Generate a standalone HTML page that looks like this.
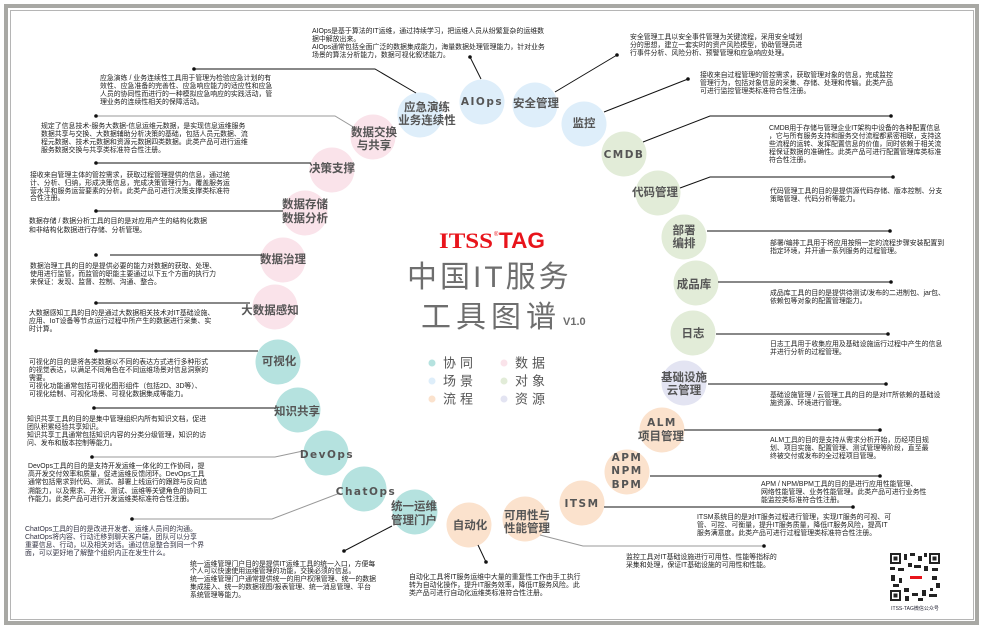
<!DOCTYPE html>
<html><head><meta charset="utf-8"><style>
html,body{margin:0;padding:0;background:#fff}
svg{display:block}
.d{font-family:"Liberation Sans","Noto Sans CJK SC",sans-serif;font-size:6.9px;fill:#222}
.c{font-family:"Liberation Sans","Noto Sans CJK SC",sans-serif;font-size:11.5px;font-weight:bold;fill:#555;text-anchor:middle;dominant-baseline:central}
.e{font-family:"DejaVu Sans","Liberation Sans",sans-serif;font-size:10.5px;font-weight:bold;fill:#555;text-anchor:middle;dominant-baseline:central;letter-spacing:1.5px}
.l{font-family:"Liberation Sans","Noto Sans CJK SC",sans-serif;font-size:13px;fill:#555;dominant-baseline:central;letter-spacing:4px}
line,polyline{stroke:#111;stroke-width:1;fill:none}
.g{stroke:#999}
</style></head><body>
<svg width="985" height="630" viewBox="0 0 985 630" xmlns="http://www.w3.org/2000/svg">
<rect x="0" y="0" width="985" height="630" fill="#fff"/>
<rect x="6" y="6" width="971" height="617" fill="none" stroke="#a8a8a4" stroke-width="4"/>
<rect x="10.5" y="10.5" width="963" height="609" fill="none" stroke="#b5b5b5" stroke-width="1"/>

<g>
<circle cx="482" cy="102" r="22.5" fill="#deeefa"/>
<circle cx="420" cy="115" r="22.5" fill="#deeefa"/>
<circle cx="535" cy="105" r="22.5" fill="#deeefa"/>
<circle cx="584" cy="124" r="22.5" fill="#deeefa"/>
<circle cx="373" cy="137" r="22.5" fill="#fae3ea"/>
<circle cx="332" cy="170" r="22.5" fill="#fae3ea"/>
<circle cx="305" cy="213" r="22.5" fill="#fae3ea"/>
<circle cx="283" cy="260" r="22.5" fill="#fae3ea"/>
<circle cx="275" cy="307" r="22.5" fill="#fae3ea"/>
<circle cx="278" cy="362" r="22.5" fill="#b5e2df"/>
<circle cx="298" cy="410" r="22.5" fill="#b5e2df"/>
<circle cx="326" cy="453" r="22.5" fill="#b5e2df"/>
<circle cx="364" cy="489" r="22.5" fill="#b5e2df"/>
<circle cx="415" cy="512" r="22.5" fill="#b5e2df"/>
<circle cx="469" cy="525" r="22.5" fill="#fbe2cd"/>
<circle cx="525" cy="519" r="22.5" fill="#fbe2cd"/>
<circle cx="582" cy="503" r="22.5" fill="#fbe2cd"/>
<circle cx="627" cy="472" r="22.5" fill="#fbe2cd"/>
<circle cx="662" cy="430" r="22.5" fill="#fbe2cd"/>
<circle cx="684" cy="383" r="22.5" fill="#e3e4f2"/>
<circle cx="693" cy="333" r="22.5" fill="#e2ecd8"/>
<circle cx="696" cy="283" r="22.5" fill="#e2ecd8"/>
<circle cx="684" cy="237" r="22.5" fill="#e2ecd8"/>
<circle cx="658" cy="193" r="22.5" fill="#e2ecd8"/>
<circle cx="624" cy="154" r="22.5" fill="#e2ecd8"/>
</g>

<g>
<polyline points="470,57 481,79"/><circle cx="470" cy="57" r="1.8" fill="#111"/>
<polyline points="194,69 375,69 416,93"/><circle cx="194" cy="69" r="1.8" fill="#111"/>
<polyline class="g" points="96,116 335,116 355,128"/><circle cx="96" cy="116" r="1.8" fill="#111"/>
<polyline points="96,163 311,163"/><circle cx="96" cy="163" r="1.8" fill="#111"/>
<polyline points="96,211 283,211"/><circle cx="96" cy="211" r="1.8" fill="#111"/>
<polyline points="110,255 262,255"/><circle cx="96" cy="255" r="1.8" fill="#111"/>
<polyline points="96,303 250,303"/><circle cx="96" cy="303" r="1.8" fill="#111"/>
<polyline points="96,351 258,351"/><circle cx="96" cy="351" r="1.8" fill="#111"/>
<polyline points="94,408 275,408"/><circle cx="94" cy="408" r="1.8" fill="#111"/>
<polyline class="g" points="92,457 275,457 303,451"/><circle cx="92" cy="457" r="1.8" fill="#111"/>
<polyline class="g" points="132,519 272,519 340,493"/><circle cx="132" cy="519" r="1.8" fill="#111"/>
<polyline points="344,551 392,526"/><circle cx="344" cy="551" r="1.8" fill="#111"/>
<polyline points="478,545 486,562"/><circle cx="486" cy="562" r="1.8" fill="#111"/>
<polyline class="g" points="540,535 583,546 764,546"/><circle cx="764" cy="546" r="1.8" fill="#111"/>
<polyline points="604,507 853,507"/><circle cx="853" cy="507" r="1.8" fill="#111"/>
<polyline points="650,476 880,476"/><circle cx="880" cy="476" r="1.8" fill="#111"/>
<polyline points="684,430 880,430"/><circle cx="880" cy="430" r="1.8" fill="#111"/>
<polyline points="708,384 886,384"/><circle cx="886" cy="384" r="1.8" fill="#111"/>
<polyline points="716,334 888,334"/><circle cx="888" cy="334" r="1.8" fill="#111"/>
<polyline points="718,282 891,282"/><circle cx="891" cy="282" r="1.8" fill="#111"/>
<polyline points="707,231 890,231"/><circle cx="890" cy="231" r="1.8" fill="#111"/>
<polyline points="680,188 710,177 893,177"/><circle cx="893" cy="177" r="1.8" fill="#111"/>
<polyline points="643,142 710,116 891,116"/><circle cx="891" cy="116" r="1.8" fill="#111"/>
<polyline points="604,112 688,79"/><circle cx="688" cy="79" r="1.8" fill="#111"/>
<polyline points="555,92 617,55"/><circle cx="617" cy="55" r="1.8" fill="#111"/>
</g>

<text class="e" x="482" y="102">AIOps</text>
<text class="c" x="427" y="108">应急演练</text><text class="c" x="427" y="121">业务连续性</text>
<text class="c" x="536" y="104">安全管理</text>
<text class="c" x="584" y="124">监控</text>
<text class="e" x="624" y="155">CMDB</text>
<text class="c" x="655" y="193">代码管理</text>
<text class="c" x="684" y="231">部署</text><text class="c" x="684" y="244">编排</text>
<text class="c" x="694" y="285">成品库</text>
<text class="c" x="693" y="334">日志</text>
<text class="c" x="684" y="378">基础设施</text><text class="c" x="684" y="391">云管理</text>
<text class="e" x="662" y="423">ALM</text><text class="c" x="661" y="437">项目管理</text>
<text class="e" x="627" y="458">APM</text><text class="e" x="627" y="471">NPM</text><text class="e" x="627" y="485">BPM</text>
<text class="e" x="582" y="504">ITSM</text>
<text class="c" x="527" y="516">可用性与</text><text class="c" x="527" y="529">性能管理</text>
<text class="c" x="470" y="526">自动化</text>
<text class="c" x="414" y="507">统一运维</text><text class="c" x="414" y="521">管理门户</text>
<text class="e" x="366" y="492">ChatOps</text>
<text class="e" x="327" y="455">DevOps</text>
<text class="c" x="297" y="412">知识共享</text>
<text class="c" x="279" y="362">可视化</text>
<text class="c" x="270" y="311">大数据感知</text>
<text class="c" x="283" y="260">数据治理</text>
<text class="c" x="305" y="205">数据存储</text><text class="c" x="305" y="219">数据分析</text>
<text class="c" x="332" y="169">决策支撑</text>
<text class="c" x="374" y="133">数据交换</text><text class="c" x="374" y="146">与共享</text>

<g class="d">
<text x="312" y="33">AIOps是基于算法的IT运维，通过持续学习，把运维人员从纷繁复杂的运维数</text>
<text x="312" y="41">据中解放出来。</text>
<text x="312" y="49">AIOps通常包括全面广泛的数据集成能力，海量数据处理管理能力，针对业务</text>
<text x="312" y="57">场景的算法分析能力，数据可视化叙述能力。</text>

<text x="630" y="39">安全管理工具以安全事件管理为关键流程，采用安全域划</text>
<text x="630" y="47">分的思想，建立一套实时的资产风险模型，协助管理员进</text>
<text x="630" y="55">行事件分析、风险分析、预警管理和应急响应处理。</text>

<text x="700" y="77">接收来自过程管理的管控需求，获取管理对象的信息，完成监控</text>
<text x="700" y="85">管理行为，包括对象信息的采集、存储、处理和传输。此类产品</text>
<text x="700" y="93">可进行监控管理类标准符合性注册。</text>

<text x="100" y="80">应急演练 / 业务连续性工具用于管理为检验应急计划的有</text>
<text x="100" y="88">效性、应急准备的完善性、应急响应能力的适应性和应急</text>
<text x="100" y="96">人员的协同性而进行的一种模拟应急响应的实践活动，管</text>
<text x="100" y="104">理业务的连续性相关的保障活动。</text>

<text x="41" y="128">规定了信息技术-服务大数据-信息运维元数据，是实现信息运维服务</text>
<text x="41" y="136">数据共享与交换、大数据辅助分析决策的基础，包括人员元数据、流</text>
<text x="41" y="144">程元数据、技术元数据和资源元数据四类数据。此类产品可进行运维</text>
<text x="41" y="152">服务数据交换与共享类标准符合性注册。</text>

<text x="30" y="177">接收来自管理主体的管控需求，获取过程管理提供的信息，通过统</text>
<text x="30" y="185">计、分析、归纳，形成决策信息，完成决策管理行为。覆盖服务运</text>
<text x="30" y="193">营水平和服务运营要素的分析。此类产品可进行决策支撑类标准符</text>
<text x="30" y="200">合性注册。</text>

<text x="29" y="223">数据存储 / 数据分析工具的目的是对应用产生的结构化数据</text>
<text x="29" y="232">和非结构化数据进行存储、分析管理。</text>

<text x="30" y="268">数据治理工具的目的是提供必要的能力对数据的获取、处理、</text>
<text x="30" y="276">使用进行监管，而监管的职能主要通过以下五个方面的执行力</text>
<text x="30" y="284">来保证：发现、监督、控制、沟通、整合。</text>

<text x="29" y="315">大数据感知工具的目的是通过大数据相关技术对IT基础设施、</text>
<text x="29" y="323">应用、IoT设备等节点运行过程中所产生的数据进行采集、实</text>
<text x="29" y="331">时计算。</text>

<text x="29" y="364">可视化的目的是将各类数据以不同的表达方式进行多种形式</text>
<text x="29" y="372">的视觉表达，以满足不同角色在不同运维场景对信息洞察的</text>
<text x="29" y="380">需要。</text>
<text x="29" y="388">可视化功能通常包括可视化图形组件（包括2D、3D等）、</text>
<text x="29" y="396">可视化绘制、可视化场景、可视化数据集成等能力。</text>

<text x="27" y="421">知识共享工具的目的是集中管理组织内所有知识文档，促进</text>
<text x="27" y="429">团队积累经验共享知识。</text>
<text x="27" y="437">知识共享工具通常包括知识内容的分类分级管理，知识的访</text>
<text x="27" y="445">问、发布和版本控制等能力。</text>

<text x="28" y="468">DevOps工具的目的是支持开发运维一体化的工作协同，提</text>
<text x="28" y="476">高开发交付效率和质量，促进运维反馈闭环。DevOps工具</text>
<text x="28" y="484">通常包括需求到代码、测试、部署上线运行的跟踪与反向追</text>
<text x="28" y="493">溯能力，以及需求、开发、测试、运维等关键角色的协同工</text>
<text x="28" y="501">作能力。此类产品可进行开发运维类标准符合性注册。</text>

<text x="25" y="531" fill="#334">ChatOps工具的目的是改进开发者、运维人员间的沟通。</text>
<text x="25" y="539" fill="#334">ChatOps将内容、行动迁移到聊天客户端，团队可以分享</text>
<text x="25" y="547" fill="#334">重要信息、行动，以及相关对话。通过信息整合到同一个界</text>
<text x="25" y="555" fill="#334">面，可以更好地了解整个组织内正在发生什么。</text>

<text x="190" y="566">统一运维管理门户目的是提供IT运维工具的统一入口，方便每</text>
<text x="190" y="573">个人可以快速使用运维管理的功能，交换必须的信息。</text>
<text x="190" y="581">统一运维管理门户通常提供统一的用户权限管理、统一的数据</text>
<text x="190" y="589">集成接入、统一的数据视图/报表管理、统一消息管理、平台</text>
<text x="190" y="597">系统管理等能力。</text>

<text x="409" y="579">自动化工具将IT服务运维中大量的重复性工作由手工执行</text>
<text x="409" y="587">转为自动化操作，提升IT服务效率，降低IT服务风险。此</text>
<text x="409" y="595">类产品可进行自动化运维类标准符合性注册。</text>

<text x="626" y="559">监控工具对IT基础设施进行可用性、性能等指标的</text>
<text x="626" y="567">采集和处理，保证IT基础设施的可用性和性能。</text>

<text x="697" y="519">ITSM系统目的是对IT服务过程进行管理，实现IT服务的可视、可</text>
<text x="697" y="527">管、可控、可衡量，提升IT服务质量，降低IT服务风险，提高IT</text>
<text x="697" y="535">服务满意度。此类产品可进行过程管理类标准符合性注册。</text>

<text x="761" y="486">APM / NPM/BPM工具的目的是进行应用性能管理、</text>
<text x="761" y="494">网络性能管理、业务性能管理。此类产品可进行业务性</text>
<text x="761" y="502">能监控类标准符合性注册。</text>

<text x="770" y="442">ALM工具的目的是支持从需求分析开始，历经项目规</text>
<text x="770" y="450">划、项目实施、配置管理、测试管理等阶段，直至最</text>
<text x="770" y="458">终被交付或发布的全过程项目管理。</text>

<text x="770" y="397">基础设施管理 / 云管理工具的目的是对IT所依赖的基础设</text>
<text x="770" y="405">施资源、环境进行管理。</text>

<text x="770" y="346">日志工具用于收集应用及基础设施运行过程中产生的信息</text>
<text x="770" y="354">并进行分析的过程管理。</text>

<text x="770" y="295">成品库工具的目的是提供待测试/发布的二进制包、jar包、</text>
<text x="770" y="303">依赖包等对象的配置管理能力。</text>

<text x="770" y="245">部署/编排工具用于将应用按照一定的流程步骤安装配置到</text>
<text x="770" y="253">指定环境，并开通一系列服务的过程管理。</text>

<text x="770" y="193">代码管理工具的目的是提供源代码存储、版本控制、分支</text>
<text x="770" y="201">策略管理、代码分析等能力。</text>

<text x="769" y="130">CMDB用于存储与管理企业IT架构中设备的各种配置信息</text>
<text x="769" y="138">，它与所有服务支持和服务交付流程都紧密相联，支持这</text>
<text x="769" y="146">些流程的运转、发挥配置信息的价值，同时依赖于相关流</text>
<text x="769" y="154">程保证数据的准确性。此类产品可进行配置管理库类标准</text>
<text x="769" y="162">符合性注册。</text>
</g>

<text x="439" y="248" font-family="Liberation Serif,serif" font-weight="bold" font-size="22" fill="#e8141b" textLength="54" lengthAdjust="spacingAndGlyphs">ITSS</text>
<text x="494" y="236" font-family="Liberation Sans,sans-serif" font-size="6" fill="#e8141b">®</text>
<text x="499" y="248" font-family="Liberation Sans,sans-serif" font-weight="bold" font-size="22" fill="#e8141b" textLength="46" lengthAdjust="spacingAndGlyphs">TAG</text>
<text x="407" y="287" font-family="Liberation Sans,Noto Sans CJK SC,sans-serif" font-size="30" fill="#6e6e6e" letter-spacing="3">中国IT服务</text>
<text x="421" y="327" font-family="Liberation Sans,Noto Sans CJK SC,sans-serif" font-size="30" fill="#6e6e6e" letter-spacing="5">工具图谱</text>
<text x="563" y="325" font-family="Liberation Sans,sans-serif" font-weight="bold" font-size="11" fill="#6e6e6e">V1.0</text>

<circle cx="432" cy="363" r="3.5" fill="#b5e2df"/>
<circle cx="432" cy="381" r="3.5" fill="#deeefa"/>
<circle cx="432" cy="399" r="3.5" fill="#fbe2cd"/>
<circle cx="504" cy="363" r="3.5" fill="#fae3ea"/>
<circle cx="504" cy="381" r="3.5" fill="#e2ecd8"/>
<circle cx="504" cy="399" r="3.5" fill="#e3e4f2"/>
<text class="l" x="443" y="363">协同</text>
<text class="l" x="443" y="381">场景</text>
<text class="l" x="443" y="399">流程</text>
<text class="l" x="515" y="363">数据</text>
<text class="l" x="515" y="381">对象</text>
<text class="l" x="515" y="399">资源</text>

<g fill="#222">
<rect x="890" y="553" width="50" height="48" fill="#fff"/>
<rect x="890" y="553" width="11" height="11"/><rect x="892" y="555" width="7" height="7" fill="#fff"/><rect x="893.5" y="556.5" width="4" height="4"/>
<rect x="929" y="553" width="11" height="11"/><rect x="931" y="555" width="7" height="7" fill="#fff"/><rect x="932.5" y="556.5" width="4" height="4"/>
<rect x="890" y="590" width="11" height="11"/><rect x="892" y="592" width="7" height="7" fill="#fff"/><rect x="893.5" y="593.5" width="4" height="4"/>
<rect x="904" y="554" width="3" height="6"/><rect x="910" y="553" width="5" height="3"/><rect x="918" y="556" width="4" height="5"/><rect x="924" y="553" width="3" height="4"/>
<rect x="890" y="567" width="5" height="3"/><rect x="898" y="568" width="6" height="3"/><rect x="908" y="563" width="4" height="4"/><rect x="914" y="565" width="7" height="3"/>
<rect x="924" y="566" width="4" height="5"/><rect x="932" y="568" width="6" height="3"/><rect x="891" y="575" width="4" height="6"/><rect x="899" y="578" width="3" height="5"/>
<rect x="932" y="576" width="5" height="4"/><rect x="936" y="583" width="4" height="5"/><rect x="893" y="584" width="6" height="3"/><rect x="904" y="588" width="5" height="4"/>
<rect x="912" y="593" width="6" height="3"/><rect x="922" y="590" width="4" height="6"/><rect x="929" y="594" width="8" height="3"/><rect x="905" y="596" width="4" height="5"/>
<rect x="930" y="588" width="3" height="3"/><rect x="918" y="598" width="5" height="3"/>
<rect x="908" y="572" width="16" height="12" fill="#fff"/>
<rect x="910" y="576" width="12" height="3" fill="#e8141b"/>
</g>
<text x="915" y="610" text-anchor="middle" font-family="Liberation Sans,Noto Sans CJK SC,sans-serif" font-size="5" fill="#223">ITSS-TAG微信公众号</text>
</svg>
</body></html>
